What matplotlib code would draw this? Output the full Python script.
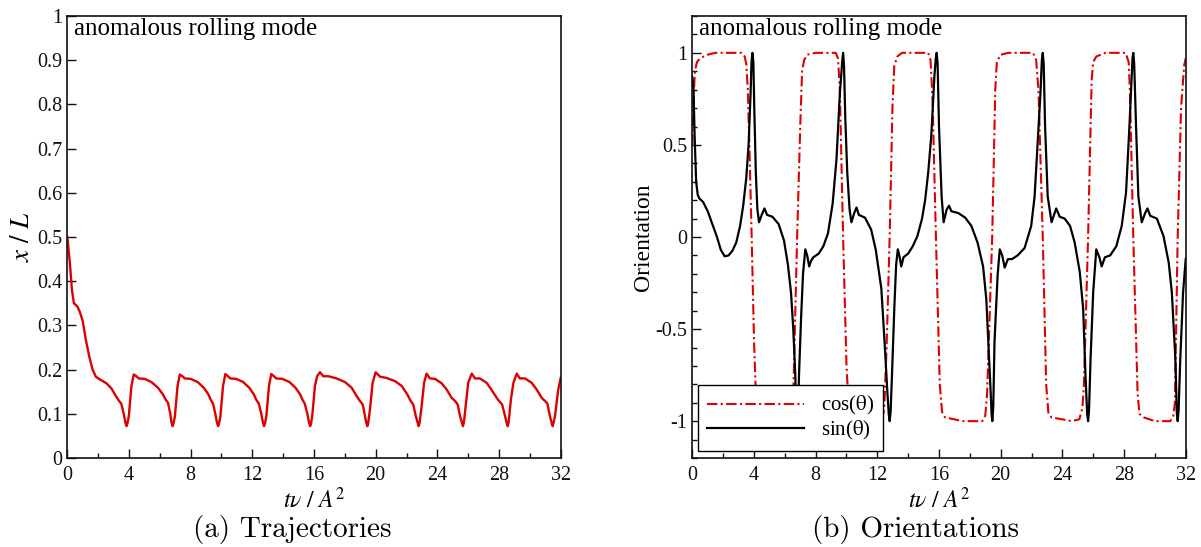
import matplotlib
matplotlib.use("Agg")
import matplotlib.pyplot as plt
from matplotlib.ticker import MultipleLocator, FixedLocator

# ---------------- data ----------------
traj_t = [0.0, 0.17, 0.3, 0.43, 0.65, 0.82, 1.0, 1.2, 1.42, 1.64, 1.85, 2.1, 2.54, 2.87, 3.15, 3.36, 3.5, 3.66, 3.77, 3.84, 3.9,
          3.99, 4.16, 4.31, 4.48, 4.63, 5.02, 5.45, 5.88, 6.2, 6.38, 6.53, 6.68, 6.76, 6.83, 6.89,
          6.98, 7.15, 7.3, 7.47, 7.62, 8.0, 8.45, 8.85, 9.15, 9.3, 9.45, 9.6, 9.71, 9.78, 9.84,
          9.93, 10.1, 10.25, 10.42, 10.57, 10.95, 11.4, 11.8, 12.1, 12.25, 12.42, 12.58, 12.69, 12.76, 12.82,
          12.91, 13.08, 13.23, 13.4, 13.55, 13.95, 14.4, 14.8, 15.1, 15.25, 15.4, 15.57, 15.68, 15.75, 15.81,
          15.9, 16.06, 16.2, 16.39, 16.6, 16.93, 17.47, 18.0, 18.44, 18.77, 18.98, 19.16, 19.31, 19.39, 19.46, 19.52,
          19.63, 19.8, 20.0, 20.28, 20.71, 21.25, 21.69, 22.05, 22.27, 22.44, 22.6, 22.72, 22.79, 22.85,
          22.98, 23.14, 23.3, 23.52, 23.85, 24.28, 24.6, 24.93, 25.15, 25.32, 25.47, 25.59, 25.66, 25.72,
          25.86, 26.0, 26.23, 26.44, 26.76, 27.2, 27.5, 27.85, 28.0, 28.2, 28.39, 28.49, 28.56, 28.62,
          28.77, 28.93, 29.15, 29.35, 29.69, 30.12, 30.44, 30.77, 30.98, 31.14, 31.3, 31.41, 31.48, 31.54,
          31.63, 31.84, 32.0]
traj_x = [0.50, 0.44, 0.38, 0.35, 0.343, 0.33, 0.31, 0.268, 0.23, 0.20, 0.184, 0.178, 0.169, 0.157, 0.14, 0.129, 0.123, 0.10, 0.08, 0.072, 0.078,
          0.095, 0.163, 0.189, 0.185, 0.18, 0.179, 0.172, 0.159, 0.144, 0.132, 0.125, 0.10, 0.08, 0.072, 0.078,
          0.095, 0.163, 0.189, 0.185, 0.18, 0.179, 0.172, 0.159, 0.144, 0.132, 0.123, 0.10, 0.08, 0.072, 0.078,
          0.095, 0.163, 0.19, 0.185, 0.18, 0.179, 0.172, 0.159, 0.144, 0.132, 0.123, 0.10, 0.08, 0.072, 0.078,
          0.095, 0.163, 0.19, 0.185, 0.18, 0.179, 0.172, 0.159, 0.144, 0.132, 0.123, 0.10, 0.08, 0.072, 0.078,
          0.10, 0.163, 0.185, 0.194, 0.185, 0.185, 0.18, 0.172, 0.159, 0.14, 0.129, 0.121, 0.095, 0.08, 0.072, 0.08,
          0.11, 0.17, 0.194, 0.184, 0.181, 0.174, 0.163, 0.144, 0.129, 0.121, 0.095, 0.08, 0.072, 0.08,
          0.117, 0.17, 0.191, 0.18, 0.179, 0.169, 0.155, 0.136, 0.129, 0.121, 0.095, 0.08, 0.072, 0.08,
          0.125, 0.17, 0.191, 0.18, 0.18, 0.17, 0.155, 0.136, 0.129, 0.121, 0.095, 0.08, 0.072, 0.08,
          0.132, 0.17, 0.191, 0.18, 0.18, 0.17, 0.155, 0.136, 0.129, 0.123, 0.095, 0.08, 0.072, 0.08,
          0.095, 0.155, 0.181]

sin_t = [0.0, 0.08, 0.15, 0.25, 0.35, 0.45, 0.7, 1.0, 1.3, 1.6, 1.85, 2.1, 2.35, 2.6, 2.85, 3.1, 3.3, 3.5, 3.65, 3.78, 3.84, 3.9, 3.96,
         4.02, 4.12, 4.22, 4.33, 4.5, 4.68, 4.85, 5.2, 5.6, 5.95, 6.2, 6.4, 6.55, 6.68, 6.74, 6.8, 6.86,
         6.92, 7.05, 7.18, 7.33, 7.45, 7.58, 7.7, 7.85, 8.2, 8.5, 8.8, 9.1, 9.35, 9.57, 9.72, 9.78, 9.84,
         9.92, 10.05, 10.2, 10.32, 10.5, 10.65, 10.8, 11.2, 11.6, 11.9, 12.26, 12.47, 12.65, 12.74, 12.8, 12.86,
         12.95, 13.1, 13.22, 13.33, 13.45, 13.55, 13.7, 14.0, 14.3, 14.6, 14.9, 15.1, 15.3, 15.5, 15.7, 15.79, 15.85, 15.91,
         16.0, 16.17, 16.3, 16.5, 16.65, 16.8, 17.25, 17.7, 18.1, 18.5, 18.86, 19.07, 19.2, 19.35, 19.41, 19.46, 19.52,
         19.6, 19.8, 19.94, 20.1, 20.26, 20.47, 20.73, 21.1, 21.55, 21.98, 22.2, 22.4, 22.58, 22.67, 22.73, 22.79,
         22.88, 23.05, 23.3, 23.6, 23.83, 24.15, 24.5, 24.8, 25.13, 25.35, 25.5, 25.61, 25.67, 25.73,
         25.83, 26.0, 26.2, 26.4, 26.55, 26.76, 27.1, 27.5, 27.85, 28.13, 28.35, 28.5, 28.55, 28.6, 28.66,
         28.78, 28.93, 29.15, 29.37, 29.52, 29.7, 30.13, 30.56, 30.9, 31.1, 31.33, 31.42, 31.48, 31.54,
         31.65, 31.83, 32.0]
sin_v = [0.87, 0.80, 0.55, 0.30, 0.23, 0.21, 0.19, 0.14, 0.07, 0.0, -0.07, -0.105, -0.10, -0.075, -0.03, 0.06, 0.17, 0.32, 0.50, 0.78, 0.95, 1.0, 0.95,
         0.70, 0.35, 0.15, 0.08, 0.12, 0.155, 0.12, 0.11, 0.07, -0.02, -0.15, -0.30, -0.50, -0.75, -0.95, -1.0, -0.95,
         -0.75, -0.45, -0.20, -0.067, -0.10, -0.16, -0.13, -0.11, -0.09, -0.05, 0.02, 0.18, 0.42, 0.78, 0.95, 1.0, 0.93,
         0.65, 0.35, 0.15, 0.08, 0.13, 0.16, 0.12, 0.105, 0.04, -0.07, -0.28, -0.57, -0.84, -0.96, -1.0, -0.95,
         -0.75, -0.39, -0.15, -0.067, -0.11, -0.16, -0.11, -0.09, -0.05, 0.005, 0.10, 0.20, 0.35, 0.55, 0.87, 0.97, 1.0, 0.94,
         0.60, 0.22, 0.08, 0.15, 0.17, 0.14, 0.13, 0.105, 0.06, -0.03, -0.16, -0.34, -0.57, -0.84, -0.96, -1.0, -0.92,
         -0.57, -0.21, -0.067, -0.10, -0.166, -0.12, -0.12, -0.10, -0.06, 0.06, 0.22, 0.51, 0.78, 0.96, 1.0, 0.94,
         0.60, 0.22, 0.08, 0.155, 0.11, 0.10, 0.06, -0.03, -0.19, -0.39, -0.75, -0.96, -1.0, -0.94,
         -0.66, -0.30, -0.067, -0.11, -0.16, -0.11, -0.10, -0.05, 0.06, 0.24, 0.60, 0.87, 0.97, 1.0, 0.94,
         0.60, 0.22, 0.08, 0.13, 0.155, 0.115, 0.10, 0.005, -0.14, -0.30, -0.66, -0.95, -1.0, -0.94,
         -0.66, -0.30, -0.12]

cos_t = [0.0, 0.08, 0.17, 0.3, 0.5, 1.0, 1.5, 3.2, 3.4, 3.5, 3.6, 3.7, 3.85, 4.0, 4.12, 4.25, 4.45, 5.0,
         6.2, 6.4, 6.55, 6.8, 7.0, 7.12, 7.25, 7.45, 8.0,
         9.3, 9.45, 9.57, 9.78, 10.0, 10.15, 10.35, 11.0,
         12.3, 12.45, 12.6, 12.8, 12.98, 13.1, 13.3, 13.6,
         15.3, 15.45, 15.58, 15.8, 16.05, 16.2, 16.4, 17.0, 17.5,
         18.8, 19.0, 19.12, 19.45, 19.65, 19.75, 20.0, 20.5,
         22.1, 22.3, 22.45, 22.73, 22.95, 23.1, 23.3, 24.0, 24.6,
         25.1, 25.3, 25.4, 25.67, 25.9, 26.0, 26.2, 26.8,
         28.1, 28.3, 28.38, 28.6, 28.88, 29.0, 29.3, 30.0,
         31.0, 31.2, 31.3, 31.48, 31.7, 31.9, 32.0]
cos_v = [0.50, 0.75, 0.90, 0.95, 0.97, 0.99, 1.0, 1.0, 0.98, 0.94, 0.80, 0.50, 0.0, -0.55, -0.85, -0.96, -0.99, -1.0,
         -1.0, -0.97, -0.85, 0.0, 0.60, 0.90, 0.96, 0.99, 1.0,
         1.0, 0.97, 0.80, 0.0, -0.70, -0.93, -0.99, -1.0,
         -1.0, -0.93, -0.60, 0.0, 0.70, 0.93, 0.98, 1.0,
         1.0, 0.96, 0.75, 0.0, -0.80, -0.95, -0.98, -0.99, -1.0,
         -1.0, -0.97, -0.85, 0.0, 0.80, 0.95, 0.99, 1.0,
         1.0, 0.96, 0.80, 0.0, -0.80, -0.96, -0.98, -0.99, -1.0,
         -0.99, -0.93, -0.80, 0.0, 0.85, 0.95, 0.98, 1.0,
         1.0, 0.95, 0.80, 0.0, -0.85, -0.96, -0.98, -1.0,
         -1.0, -0.97, -0.90, 0.0, 0.70, 0.93, 0.97]

x_ticks = [0, 4, 8, 12, 16, 20, 24, 28, 32]
y_ticks_a = [0, 0.1, 0.2, 0.3, 0.4, 0.5, 0.6, 0.7, 0.8, 0.9, 1.0]
y_labels_a = ["0", "0.1", "0.2", "0.3", "0.4", "0.5", "0.6", "0.7", "0.8", "0.9", "1"]
y_ticks_b = [-1, -0.5, 0, 0.5, 1]
y_labels_b = ["-1", "-0.5", "0", "0.5", "1"]

# ---------------- style ----------------
plt.rcParams['font.family'] = ['Liberation Serif', 'DejaVu Serif']
plt.rcParams['mathtext.fontset'] = 'stix'

RED = '#dd0000'
SERIF = ['Liberation Serif', 'DejaVu Serif']
TICK_FS = 14.5
LABEL_FS = 17

fig = plt.figure(figsize=(12.01, 5.47), dpi=100)
W, H = 1201.0, 547.0
ax1 = fig.add_axes([67.3 / W, 1 - 458 / H, 493.4 / W, 442 / H])
ax2 = fig.add_axes([692.3 / W, 1 - 458 / H, 493.4 / W, 442 / H])


def style_axes(ax):
    for s in ax.spines.values():
        s.set_linewidth(1.2)
        s.set_color('#111111')
    ax.tick_params(which='both', direction='in', top=False, right=False, width=1.0, colors='#111111')
    ax.tick_params(which='major', length=6.5, labelsize=TICK_FS)
    ax.tick_params(which='minor', length=3.5)
    ax.tick_params(axis='x', which='major', pad=6)
    ax.tick_params(axis='y', which='major', pad=3.5)
    ax.set_xlim(0, 32)
    ax.xaxis.set_major_locator(FixedLocator(x_ticks))
    ax.xaxis.set_minor_locator(MultipleLocator(2))
    ax.set_xlabel(r'$t\nu\ /\ A^2$', fontsize=LABEL_FS, va='center')
    ax.xaxis.set_label_coords(0.5, -0.095)


# ---- panel (a) ----
style_axes(ax1)
ax1.plot(traj_t, traj_x, color=RED, lw=1.7)
ax1.set_ylim(0, 1)
ax1.set_yticks(y_ticks_a)
ax1.set_yticklabels(y_labels_a)
ax1.set_ylabel(r'$x\ /\ L$', fontsize=19.5, va='center')
ax1.yaxis.set_label_coords(-0.091, 0.5)
ax1.text(0.013, 0.995, 'anomalous rolling mode', transform=ax1.transAxes,
         ha='left', va='top', fontsize=18, family=SERIF)

# ---- panel (b) ----
style_axes(ax2)
ax2.plot(cos_t, cos_v, color=RED, lw=1.5, dashes=(5, 1.6, 1, 1.6), label=r'cos($\mathrm{\theta}$)')
ax2.plot(sin_t, sin_v, color='black', lw=1.6, label=r'sin($\mathrm{\theta}$)')
ax2.set_ylim(-1.2, 1.2)
ax2.set_yticks(y_ticks_b)
ax2.set_yticklabels(y_labels_b)
ax2.yaxis.set_minor_locator(MultipleLocator(0.1))
ax2.set_ylabel('Orientation', fontsize=LABEL_FS, va='center')
ax2.yaxis.set_label_coords(-0.098, 0.5)
ax2.text(0.013, 0.995, 'anomalous rolling mode', transform=ax2.transAxes,
         ha='left', va='top', fontsize=18, family=SERIF)
leg = ax2.legend(loc='lower left', bbox_to_anchor=(0.0116, 0.016), borderaxespad=0,
                 fontsize=15, handlelength=4.66, handletextpad=0.77, labelspacing=0.05,
                 borderpad=0.45, fancybox=False, framealpha=1, edgecolor='black',
                 markerfirst=True)
leg.get_frame().set_linewidth(1.0)
leg.set_zorder(5)

# ---- captions ----
fig.text(292 / W, 1 - 537 / H, '(a) Trajectories', ha='center', va='baseline',
         fontsize=21, family=['cmr10', 'DejaVu Serif'])
fig.text(915 / W, 1 - 537 / H, '(b) Orientations', ha='center', va='baseline',
         fontsize=21, family=['cmr10', 'DejaVu Serif'])

fig.savefig('out.png', dpi=100)
